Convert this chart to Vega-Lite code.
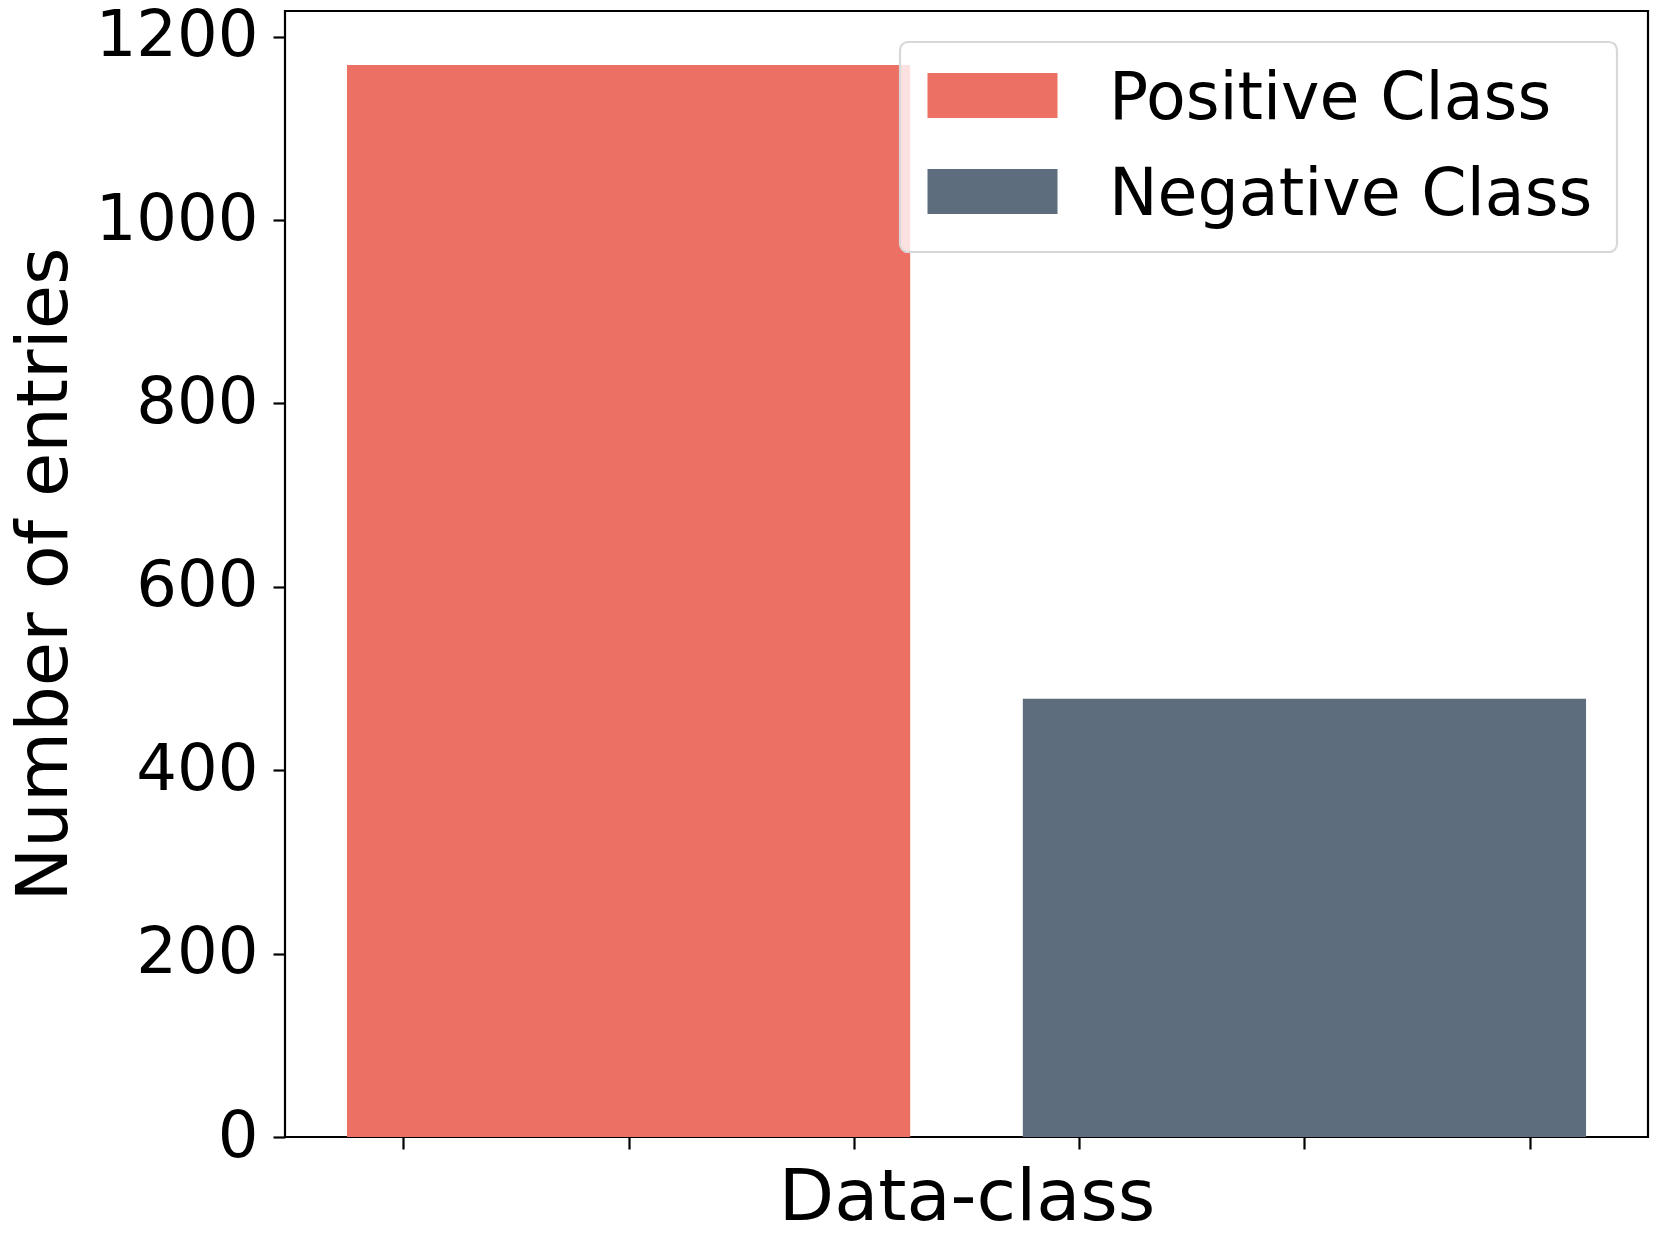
{
  "$schema": "https://vega.github.io/schema/vega-lite/v6.json",
  "width": 1363,
  "height": 1126,
  "autosize": {"type": "none"},
  "padding": {"left": 285, "top": 11, "right": 12, "bottom": 108},
  "background": "white",
  "config": {
    "font": "DejaVu Sans",
    "view": {"stroke": "black", "strokeWidth": 2.2},
    "axis": {"grid": false, "domain": false, "tickColor": "black", "tickWidth": 2.2, "tickSize": 12, "labelColor": "black", "titleColor": "black", "labelFont": "DejaVu Sans", "titleFont": "DejaVu Sans", "titleFontWeight": "normal"}
  },
  "data": {
    "values": [
      {"cls": "Positive Class", "x0": -0.25, "x1": 2.25, "count": 1169},
      {"cls": "Negative Class", "x0": 2.75, "x1": 5.25, "count": 478}
    ]
  },
  "mark": {"type": "bar"},
  "encoding": {
    "x": {
      "field": "x0", "type": "quantitative",
      "scale": {"domain": [-0.525, 5.525], "nice": false, "zero": false},
      "axis": {"values": [0, 1, 2, 3, 4, 5], "labels": false, "title": "Data-class", "titleFontSize": 72, "titleBaseline": "alphabetic", "titlePadding": 69}
    },
    "x2": {"field": "x1"},
    "y": {
      "field": "count", "type": "quantitative",
      "scale": {"domain": [0, 1228], "nice": false},
      "axis": {"values": [0, 200, 400, 600, 800, 1000, 1200], "format": "d", "labelLimit": 400, "labelFontSize": 64, "labelPadding": 15, "title": "Number of entries", "titleFontSize": 72, "titleBaseline": "alphabetic", "titlePadding": 29}
    },
    "y2": {"datum": 0},
    "color": {
      "field": "cls", "type": "nominal",
      "scale": {"domain": ["Positive Class", "Negative Class"], "range": ["#EC7063", "#5D6D7E"]},
      "legend": {
        "title": null,
        "orient": "top-right",
        "offset": 31,
        "symbolType": "M-2.889,-1.13H2.889V0.87H-2.889Z",
        "symbolSize": 2025,
        "symbolOffset": 36,
        "symbolStrokeWidth": 0,
        "symbolOpacity": 1,
        "labelFontSize": 65,
        "labelFont": "DejaVu Sans",
        "labelColor": "black",
        "labelOffset": 84,
        "rowPadding": 30,
        "padding": 24,
        "fillColor": "rgba(255,255,255,0.8)",
        "strokeColor": "#d8d8d8",
        "cornerRadius": 8,
        "labelLimit": 1000,
        "encode": {"legend": {"update": {"strokeWidth": {"value": 2.2}}}}
      }
    }
  }
}
